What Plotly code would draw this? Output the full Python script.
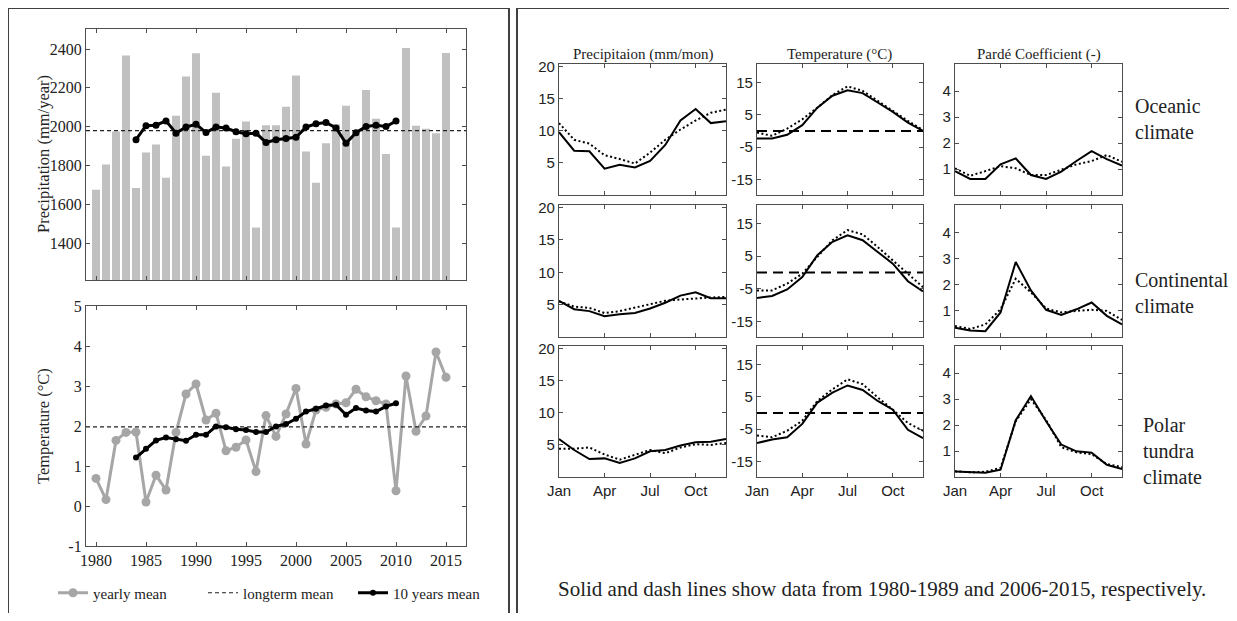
import plotly.graph_objects as go

# page body has an 8px margin: figure coordinates are page coordinates minus OFF
OFF = 8
W, H = 1229, 605
SERIF = "Liberation Serif"
SANS = "Liberation Sans"
AX = "#4d4d4d"
TXT = "#222222"

# ---------------- data: left panels ----------------
years = list(range(1980, 2016))
precip_yearly = [1675, 1805, 1975, 2366, 1684, 1867, 1909, 1737, 2056, 2259,
                 2378, 1850, 2175, 1795, 1938, 2027, 1481, 2007, 2007, 2103,
                 2264, 1873, 1711, 1915, 2013, 2108, 1975, 2189, 2041, 1859,
                 1481, 2405, 2005, 1989, 1967, 2379]
ma_years = list(range(1984, 2011))
precip_10yr = [1933, 2005, 2008, 2030, 1967, 1998, 2013, 1970, 1998, 1993,
               1974, 1964, 1967, 1919, 1933, 1940, 1946, 1998, 2015, 2022,
               1994, 1915, 1969, 2001, 2008, 2001, 2029]
precip_longterm = 1980

temp_yearly = [0.69, 0.16, 1.64, 1.84, 1.85, 0.10, 0.77, 0.40, 1.84, 2.80,
               3.05, 2.15, 2.32, 1.38, 1.47, 1.65, 0.86, 2.26, 1.74, 2.30,
               2.94, 1.55, 2.40, 2.47, 2.55, 2.58, 2.92, 2.73, 2.63, 2.55,
               0.38, 3.25, 1.87, 2.25, 3.85, 3.22]
temp_10yr = [1.21, 1.43, 1.64, 1.71, 1.67, 1.63, 1.78, 1.78, 1.99, 1.97,
             1.92, 1.90, 1.85, 1.85, 1.99, 2.05, 2.18, 2.36, 2.43, 2.51,
             2.53, 2.28, 2.45, 2.39, 2.36, 2.49, 2.57]
temp_longterm = 1.98

year_ticks = [1980, 1985, 1990, 1995, 2000, 2005, 2010, 2015]
precip_ticks = [1400, 1600, 1800, 2000, 2200, 2400]
temp_ticks = [-1, 0, 1, 2, 3, 4, 5]
temp_tick_labels = ["-1", "0", "1", "2", "3", "4", "5"]

# ---------------- data: right panels (monthly) ----------------
months = list(range(1, 13))
month_ticks = [1, 4, 7, 10]
month_labels = ["Jan", "Apr", "Jul", "Oct"]

climates = ["Oceanic<br>climate", "Continental<br>climate", "Polar<br>tundra<br>climate"]
col_titles = ["Precipitaion (mm/mon)", "Temperature (\u00b0C)", "Pard\u00e9 Coefficient (-)"]

# precipitation (mm/mon): solid = 1980-1989, dotted = 2006-2015
prec_oce_8089 = [9.8, 6.9, 6.8, 4.1, 4.7, 4.3, 5.3, 7.8, 11.6, 13.4, 11.2, 11.5]
prec_oce_0615 = [11.2, 8.6, 8.0, 6.2, 5.6, 4.9, 6.6, 8.6, 10.2, 11.6, 12.8, 13.3]
prec_con_8089 = [5.6, 4.3, 4.0, 3.2, 3.5, 3.7, 4.4, 5.3, 6.4, 6.9, 6.0, 6.0]
prec_con_0615 = [5.5, 4.7, 4.5, 3.7, 4.0, 4.5, 5.1, 5.6, 5.8, 6.0, 6.1, 6.2]
prec_pol_8089 = [5.9, 4.2, 2.8, 2.9, 2.2, 2.9, 4.0, 4.2, 4.9, 5.4, 5.5, 5.9]
prec_pol_0615 = [4.4, 4.4, 4.6, 3.5, 2.7, 3.4, 4.2, 3.7, 4.6, 5.1, 5.0, 5.3]

# temperature (degC)
temp_oce_8089 = [-2.3, -2.3, -1.2, 1.8, 7.2, 10.9, 12.6, 11.7, 8.8, 5.9, 2.6, 0.0]
temp_oce_0615 = [-0.5, -1.5, 0.7, 3.6, 7.2, 11.1, 13.8, 12.4, 9.3, 6.2, 3.1, 0.3]
temp_con_8089 = [-7.8, -7.2, -5.2, -1.4, 5.3, 9.4, 11.4, 9.9, 6.3, 2.7, -2.7, -5.8]
temp_con_0615 = [-5.5, -5.5, -3.4, -0.4, 4.8, 9.9, 13.0, 11.7, 7.8, 3.7, -0.7, -4.5]
temp_pol_8089 = [-9.3, -8.2, -7.5, -3.4, 3.2, 6.3, 8.5, 7.1, 3.7, 1.0, -5.2, -7.8]
temp_pol_0615 = [-7.0, -7.5, -5.5, -2.4, 3.7, 7.3, 10.4, 8.9, 4.8, 1.0, -3.1, -5.5]
temp_ref = 0

# Parde coefficient (-)
pard_oce_8089 = [0.92, 0.62, 0.62, 1.18, 1.41, 0.77, 0.62, 0.90, 1.31, 1.69, 1.38, 1.13]
pard_oce_0615 = [1.03, 0.74, 0.92, 1.11, 1.03, 0.77, 0.77, 0.99, 1.18, 1.31, 1.54, 1.28]
pard_con_8089 = [0.35, 0.25, 0.22, 0.94, 2.87, 1.78, 1.04, 0.84, 1.06, 1.32, 0.81, 0.48]
pard_con_0615 = [0.42, 0.31, 0.48, 1.06, 2.23, 1.71, 1.09, 0.94, 1.00, 1.04, 1.00, 0.65]
pard_pol_8089 = [0.21, 0.19, 0.16, 0.28, 2.19, 3.12, 2.15, 1.25, 0.99, 0.94, 0.47, 0.31]
pard_pol_0615 = [0.22, 0.18, 0.20, 0.35, 2.15, 3.00, 2.20, 1.15, 0.95, 0.88, 0.50, 0.38]

prec_ticks = [5, 10, 15, 20]
prec_tick_labels = ["5", "10", "15", "20"]
tmon_ticks = [-15, -5, 5, 15]
tmon_tick_labels = ["-15", "-5", "5", "15"]
pard_ticks = [1, 2, 3, 4]
pard_tick_labels = ["1", "2", "3", "4"]

note = "Solid and dash lines show data from 1980-1989 and 2006-2015, respectively."

# ---------------- helpers (page pixel -> paper fraction) ----------------
def px(x):
    return (x - OFF) / W

def py(y):
    return 1 - (y - OFF) / H

def xd(a, b):
    return [px(a), px(b)]

def yd(top, bottom):
    return [py(bottom), py(top)]

base_axis = dict(showline=True, linecolor=AX, linewidth=1.2, mirror="ticks",
                 ticks="inside", ticklen=4, tickcolor=AX, tickwidth=1,
                 showgrid=False, zeroline=False, fixedrange=True, automargin=False)

fig = go.Figure()
layout = dict(width=W, height=H, margin=dict(l=0, r=0, t=0, b=0, autoexpand=False),
              paper_bgcolor="white", plot_bgcolor="white")

# ---------------- left top: precipitation bars ----------------
layout["xaxis"] = dict(base_axis, domain=xd(86, 466), range=[1979, 2017],
                       tickvals=year_ticks, showticklabels=False, anchor="y")
layout["yaxis"] = dict(base_axis, domain=yd(29, 280), range=[1211, 2503],
                       tickvals=precip_ticks, anchor="x",
                       tickfont=dict(family=SERIF, size=16, color=TXT))
fig.add_trace(go.Bar(x=years, y=precip_yearly, width=0.8, marker_color="#c0c0c0",
                     marker_line_width=0, xaxis="x", yaxis="y", showlegend=False))
fig.add_trace(go.Scatter(x=[1979, 2017], y=[precip_longterm, precip_longterm], mode="lines",
                         line=dict(color="#222", width=1.2, dash="4px,3px"),
                         xaxis="x", yaxis="y", showlegend=False))
fig.add_trace(go.Scatter(x=ma_years, y=precip_10yr, mode="lines+markers",
                         line=dict(color="black", width=3), marker=dict(size=7, color="black"),
                         xaxis="x", yaxis="y", showlegend=False))

# ---------------- left bottom: temperature ----------------
layout["xaxis2"] = dict(base_axis, domain=xd(86, 466), range=[1979, 2017],
                        tickvals=year_ticks, anchor="y2",
                        tickfont=dict(family=SERIF, size=16, color=TXT))
layout["yaxis2"] = dict(base_axis, domain=yd(306, 546), range=[-1, 5],
                        tickvals=temp_ticks, ticktext=temp_tick_labels, anchor="x2",
                        tickfont=dict(family=SERIF, size=16, color=TXT))
fig.add_trace(go.Scatter(x=years, y=temp_yearly, mode="lines+markers", name="yearly mean",
                         line=dict(color="#a6a6a6", width=3),
                         marker=dict(size=9, color="#a6a6a6"),
                         xaxis="x2", yaxis="y2"))
fig.add_trace(go.Scatter(x=[1979, 2017], y=[temp_longterm, temp_longterm], mode="lines",
                         name="longterm mean",
                         line=dict(color="#222", width=1.2, dash="4px,3px"),
                         xaxis="x2", yaxis="y2"))
fig.add_trace(go.Scatter(x=ma_years, y=temp_10yr, mode="lines+markers", name="10 years mean",
                         line=dict(color="black", width=3), marker=dict(size=6, color="black"),
                         xaxis="x2", yaxis="y2"))

# ---------------- right: 3x3 monthly panels ----------------
col_px = [(559, 726), (757, 923), (955, 1122)]
row_px = [(64, 195), (205, 337), (346, 477)]
panel_data = [
    [(prec_oce_8089, prec_oce_0615), (temp_oce_8089, temp_oce_0615), (pard_oce_8089, pard_oce_0615)],
    [(prec_con_8089, prec_con_0615), (temp_con_8089, temp_con_0615), (pard_con_8089, pard_con_0615)],
    [(prec_pol_8089, prec_pol_0615), (temp_pol_8089, temp_pol_0615), (pard_pol_8089, pard_pol_0615)],
]
col_ranges = [[0, 20.4], [-19.8, 20.7], [0, 5.05]]
col_ticks = [(prec_ticks, prec_tick_labels), (tmon_ticks, tmon_tick_labels), (pard_ticks, pard_tick_labels)]

k = 3
for r in range(3):
    for c in range(3):
        xa, ya = f"xaxis{k}", f"yaxis{k}"
        xr, yr = f"x{k}", f"y{k}"
        layout[xa] = dict(base_axis, domain=xd(*col_px[c]), range=[1, 12],
                          tickvals=month_ticks, ticktext=month_labels,
                          showticklabels=(r == 2), anchor=yr,
                          tickfont=dict(family=SANS, size=15, color=TXT))
        layout[ya] = dict(base_axis, domain=yd(*row_px[r]), range=col_ranges[c],
                          tickvals=col_ticks[c][0], ticktext=col_ticks[c][1], anchor=xr,
                          tickfont=dict(family=SANS, size=15, color=TXT))
        solid, dotted = panel_data[r][c]
        if c == 1:
            fig.add_trace(go.Scatter(x=[1, 12], y=[temp_ref, temp_ref], mode="lines",
                                     line=dict(color="black", width=2, dash="10px,6px"),
                                     xaxis=xr, yaxis=yr, showlegend=False))
        fig.add_trace(go.Scatter(x=months, y=dotted, mode="lines",
                                 line=dict(color="black", width=2, dash="2px,2.5px"),
                                 xaxis=xr, yaxis=yr, showlegend=False))
        fig.add_trace(go.Scatter(x=months, y=solid, mode="lines",
                                 line=dict(color="black", width=2),
                                 xaxis=xr, yaxis=yr, showlegend=False))
        k += 1

# ---------------- annotations ----------------
ann = []
ann.append(dict(text="Precipitation (mm/year)", x=px(43), y=py(154), textangle=-90,
                font=dict(family=SERIF, size=16.5, color=TXT)))
ann.append(dict(text="Temperature (\u00b0C)", x=px(43), y=py(426), textangle=-90,
                font=dict(family=SERIF, size=16.5, color=TXT)))
for c in range(3):
    ann.append(dict(text=col_titles[c], x=px((col_px[c][0] + col_px[c][1]) / 2), y=py(54),
                    font=dict(family=SERIF, size=15, color=TXT)))
clim_y = [119, 293, 451]
clim_x = [1133, 1133, 1141]
for r in range(3):
    ann.append(dict(text=climates[r], x=px(clim_x[r]), y=py(clim_y[r]), xanchor="left",
                    align="left", font=dict(family=SERIF, size=20, color=TXT)))
ann.append(dict(text=note, x=px(882), y=py(589),
                font=dict(family=SERIF, size=21, color=TXT)))
for a in ann:
    a.update(xref="paper", yref="paper", showarrow=False)
    a.setdefault("xanchor", "center")
    a.setdefault("yanchor", "middle")
layout["annotations"] = ann

# ---------------- frame boxes ----------------
layout["shapes"] = [
    dict(type="rect", xref="paper", yref="paper", x0=px(8), x1=px(509), y0=py(660), y1=py(8),
         line=dict(color="#404040", width=2)),
    dict(type="rect", xref="paper", yref="paper", x0=px(517), x1=px(1260), y0=py(660), y1=py(8),
         line=dict(color="#404040", width=2)),
]

layout["legend"] = dict(orientation="h", x=px(53), y=py(593), xanchor="left", yanchor="middle",
                        font=dict(family=SERIF, size=15, color=TXT), bgcolor="rgba(0,0,0,0)",
                        traceorder="normal", entrywidth=105)
layout["showlegend"] = True

fig.update_layout(**layout)
fig.write_html("out.html")
